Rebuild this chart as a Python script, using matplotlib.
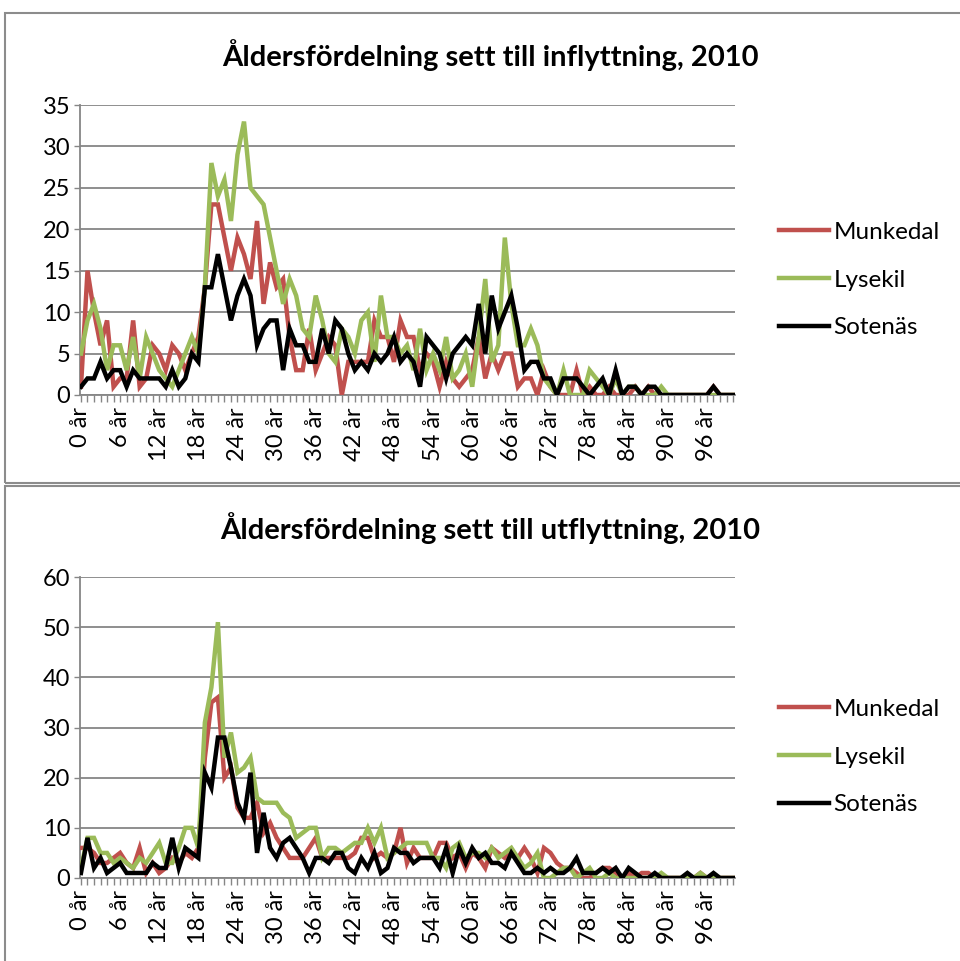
import matplotlib
matplotlib.use("Agg")
import matplotlib.pyplot as plt
from matplotlib.patches import Rectangle

plt.rcParams['font.family'] = ['Lato', 'DejaVu Sans']

# ages 0..100
ages = list(range(101))
tick_ages = list(range(0, 97, 6))
tick_labels = [f"{a} år" for a in tick_ages]

series_names = ["Munkedal", "Lysekil", "Sotenäs"]
series_colors = ["#C0504D", "#9BBB59", "#000000"]

# inflyttning 2010
in_munkedal = [1, 15, 10, 6, 9, 1, 2, 2, 9, 1, 2, 6, 5, 3, 6, 5, 3, 5, 7, 13,
               23, 23, 19, 15, 19, 17, 14, 21, 11, 16, 13, 14, 7, 3, 3, 8, 3, 5, 7, 6,
               0, 4, 4, 4, 4, 9, 7, 7, 4, 9, 7, 7, 3, 5, 4, 1, 4, 2, 1, 2,
               3, 7, 2, 5, 3, 5, 5, 1, 2, 2, 0, 3, 1, 0, 0, 0, 3, 0, 1, 0,
               0, 1, 0, 0, 0, 1, 0, 1, 0, 0, 0, 0, 0, 0, 0, 0, 0, 1, 0, 0, 0]
in_lysekil = [5, 9, 11, 8, 3, 6, 6, 3, 7, 2, 7, 5, 3, 2, 1, 3, 5, 7, 5, 13,
              28, 24, 26, 21, 29, 33, 25, 24, 23, 19, 15, 11, 14, 12, 8, 7, 12, 9, 5, 4,
              8, 7, 5, 9, 10, 4, 12, 7, 7, 5, 6, 3, 8, 3, 5, 3, 7, 2, 3, 5,
              1, 7, 14, 4, 6, 19, 11, 6, 6, 8, 6, 2, 1, 0, 3, 0, 0, 0, 3, 2,
              1, 0, 2, 0, 1, 1, 0, 0, 0, 1, 0, 0, 0, 0, 0, 0, 0, 0, 0, 0, 0]
in_sotenas = [1, 2, 2, 4, 2, 3, 3, 1, 3, 2, 2, 2, 2, 1, 3, 1, 2, 5, 4, 13,
              13, 17, 13, 9, 12, 14, 12, 6, 8, 9, 9, 3, 8, 6, 6, 4, 4, 8, 5, 9,
              8, 5, 3, 4, 3, 5, 4, 5, 7, 4, 5, 4, 1, 7, 6, 5, 2, 5, 6, 7,
              6, 11, 5, 12, 8, 10, 12, 8, 3, 4, 4, 2, 2, 0, 2, 2, 2, 1, 0, 1,
              2, 0, 3, 0, 1, 1, 0, 1, 1, 0, 0, 0, 0, 0, 0, 0, 0, 1, 0, 0, 0]

# utflyttning 2010
out_munkedal = [6, 6, 5, 3, 3, 4, 5, 3, 2, 6, 1, 3, 1, 2, 4, 3, 5, 4, 6, 24,
                35, 36, 20, 22, 14, 12, 12, 15, 9, 11, 8, 6, 4, 4, 4, 6, 8, 4, 4, 4,
                4, 4, 5, 8, 8, 4, 5, 4, 5, 10, 3, 6, 4, 4, 4, 7, 7, 4, 5, 2,
                5, 4, 2, 6, 5, 4, 5, 4, 6, 4, 1, 6, 5, 3, 2, 2, 1, 0, 0, 1,
                2, 2, 1, 0, 1, 0, 1, 1, 0, 0, 0, 0, 0, 0, 0, 1, 0, 0, 0, 0, 0]
out_lysekil = [2, 8, 8, 5, 5, 3, 4, 3, 2, 4, 3, 5, 7, 3, 3, 6, 10, 10, 6, 31,
               38, 51, 24, 29, 21, 22, 24, 16, 15, 15, 15, 13, 12, 8, 9, 10, 10, 4, 6, 6,
               5, 6, 7, 7, 10, 7, 10, 4, 5, 6, 7, 7, 7, 7, 4, 4, 2, 6, 7, 4,
               5, 5, 4, 6, 4, 5, 6, 4, 2, 3, 5, 0, 0, 1, 2, 2, 0, 1, 2, 0,
               0, 1, 0, 0, 0, 0, 0, 0, 0, 1, 0, 0, 0, 0, 0, 1, 0, 0, 0, 0, 0]
out_sotenas = [1, 8, 2, 4, 1, 2, 3, 1, 1, 1, 1, 3, 2, 2, 8, 2, 6, 5, 4, 21,
               18, 28, 28, 22, 15, 12, 21, 5, 13, 6, 4, 7, 8, 6, 4, 1, 4, 4, 3, 5,
               5, 2, 1, 4, 2, 5, 1, 2, 6, 5, 5, 3, 4, 4, 4, 2, 6, 1, 6, 3,
               6, 4, 5, 3, 3, 2, 5, 3, 1, 1, 2, 1, 2, 1, 1, 2, 4, 1, 1, 1,
               2, 1, 2, 0, 2, 1, 0, 0, 1, 0, 0, 0, 0, 1, 0, 0, 0, 1, 0, 0, 0]

W, H = 960, 961
fig = plt.figure(figsize=(W / 100, H / 100), dpi=100)
GRID = "#868686"


def panel(rect, title, data, ymax, ystep, title_y, legend_y):
    ax = fig.add_axes(rect)
    for vals, name, col in zip(data, series_names, series_colors):
        ax.plot(ages, vals, color=col, lw=3.2, label=name, solid_joinstyle="miter",
                zorder=3)
    ax.set_xlim(-0.15, 100.3)
    ax.set_ylim(0, ymax)
    ax.set_yticks(range(0, ymax + 1, ystep))
    ax.yaxis.grid(True, color=GRID, lw=1.3)
    ax.set_axisbelow(True)
    ax.set_xticks(tick_ages)
    ax.set_xticklabels(tick_labels, rotation=90, fontsize=17)
    ax.set_xticks(ages, minor=True)
    ax.tick_params(axis="x", which="both", length=5, width=1, color=GRID, pad=4)
    ax.tick_params(axis="y", length=4, width=1, color=GRID, labelsize=17, pad=3)
    for s in ["top", "right"]:
        ax.spines[s].set_visible(False)
    for s in ["left", "bottom"]:
        ax.spines[s].set_color(GRID)
        ax.spines[s].set_linewidth(1.3)
    fig.text(490 / W, 1 - title_y / H, title, ha="center", va="center",
             fontsize=21, fontweight="bold")
    ax.legend(loc="center left", bbox_to_anchor=(757 / W, 1 - legend_y / H),
              bbox_transform=fig.transFigure, frameon=False, fontsize=17.5,
              handlelength=2.05, handletextpad=0.2, labelspacing=1.1)
    return ax


# chart borders
fig.patches.append(Rectangle((5 / W, 1 - 483 / H), 1, 470 / H, transform=fig.transFigure,
                             fill=False, ec="#8c8c8c", lw=1.5))
fig.patches.append(Rectangle((5 / W, 1 - 1.02), 1, (1.02 * H - 486) / H,
                             transform=fig.transFigure, fill=False, ec="#8c8c8c", lw=1.5))

panel([80 / W, 1 - 395 / H, 655 / W, 290 / H],
      "Åldersfördelning sett till inflyttning, 2010",
      [in_munkedal, in_lysekil, in_sotenas], 35, 5, 55, 280)
panel([80 / W, 1 - 878 / H, 655 / W, 301 / H],
      "Åldersfördelning sett till utflyttning, 2010",
      [out_munkedal, out_lysekil, out_sotenas], 60, 10, 528, 757)

fig.savefig("out.png", dpi=100)
